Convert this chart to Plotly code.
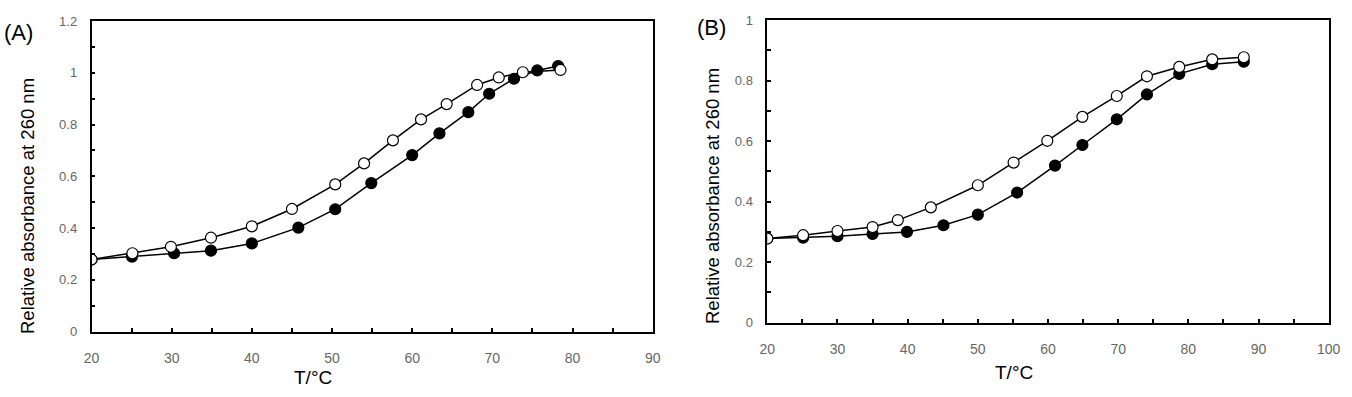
import plotly.graph_objects as go

W, H = 1352, 397
OFF_X, OFF_Y = 0, 0  # body margin is removed in the page below

# Panel A data
a_fill_T = [20, 25.05, 30.3, 34.9, 40.0, 45.8, 50.4, 54.9, 60.0, 63.4, 67.0, 69.6, 72.7, 75.6, 78.2]
a_fill_A = [0.279, 0.290, 0.303, 0.313, 0.341, 0.402, 0.473, 0.574, 0.682, 0.766, 0.848, 0.919, 0.977, 1.009, 1.026]
a_open_T = [20, 25.1, 29.9, 34.9, 40.0, 45.0, 50.4, 54.0, 57.6, 61.1, 64.3, 68.1, 70.8, 73.8, 78.5]
a_open_A = [0.279, 0.303, 0.328, 0.363, 0.407, 0.474, 0.569, 0.650, 0.739, 0.820, 0.879, 0.953, 0.982, 1.002, 1.011]

# Panel B data
b_fill_T = [20, 25.1, 30.0, 35.0, 39.9, 45.1, 50.0, 55.6, 61.0, 64.9, 69.8, 74.1, 78.7, 83.4, 87.9]
b_fill_A = [0.278, 0.281, 0.286, 0.293, 0.300, 0.322, 0.357, 0.430, 0.519, 0.587, 0.672, 0.754, 0.822, 0.854, 0.862]
b_open_T = [20, 25.1, 30.0, 35.0, 38.6, 43.3, 50.0, 55.1, 59.9, 64.9, 69.8, 74.1, 78.7, 83.4, 87.9]
b_open_A = [0.278, 0.289, 0.303, 0.316, 0.339, 0.381, 0.454, 0.529, 0.601, 0.680, 0.749, 0.814, 0.845, 0.870, 0.877]

panel_labels = ["(A)", "(B)"]
x_title = "T/°C"
y_title = "Relative absorbance at 260 nm"

FONT = "Liberation Sans, Arial, sans-serif"


def px(x):
    return (x - OFF_X) / W


def py(y):
    return 1 - (y - OFF_Y) / H


fig = go.Figure()


def add_series(T, A, xa, ya, filled):
    fig.add_trace(go.Scatter(
        x=T, y=A, mode="lines+markers", xaxis=xa, yaxis=ya,
        line=dict(color="black", width=1.5),
        marker=dict(size=11, color="black" if filled else "white",
                    line=dict(color="black", width=1.2)),
        showlegend=False, hoverinfo="x+y"))


add_series(a_fill_T, a_fill_A, "x", "y", True)
add_series(a_open_T, a_open_A, "x", "y", False)
add_series(b_fill_T, b_fill_A, "x2", "y2", True)
add_series(b_open_T, b_open_A, "x2", "y2", False)

minor_x = dict(dtick=5, ticks="inside", ticklen=4, tickwidth=1.5, tickcolor="black")
minor_y = dict(dtick=0.1, ticks="inside", ticklen=4, tickwidth=1.5, tickcolor="black")


def axis(**kw):
    base = dict(
        showgrid=False, zeroline=False, showline=True, linecolor="black", linewidth=1.5,
        mirror=True, ticks="inside", ticklen=4, tickwidth=1.5, tickcolor="black",
        automargin=False,
    )
    base.update(kw)
    return base


xfont = dict(family=FONT, size=14, color="#666666")
yfont = dict(family=FONT, size=13, color="#666666")

fig.update_layout(
    width=W, height=H, margin=dict(l=0, r=0, t=0, b=0, autoexpand=False),
    paper_bgcolor="white", plot_bgcolor="white",
    xaxis=axis(domain=[px(91.5), px(652.7)], range=[20, 90], dtick=10, tick0=20,
               minor=minor_x, anchor="y", ticklabelstandoff=13, tickfont=xfont),
    yaxis=axis(domain=[py(331.7), py(21)], range=[0, 1.2], dtick=0.2,
               minor=minor_y, anchor="x", ticklabelstandoff=10, tickfont=yfont),
    xaxis2=axis(domain=[px(767.3), px(1328.7)], range=[20, 100], dtick=10, tick0=20,
                minor=minor_x, anchor="y2", ticklabelstandoff=13, tickfont=xfont),
    yaxis2=axis(domain=[py(322.7), py(20)], range=[0, 1], dtick=0.2,
                minor=minor_y, anchor="x2", ticklabelstandoff=10, tickfont=yfont),
)


def label(text, x, y, size, angle=0):
    return dict(text=text, x=px(x), y=py(y), xref="paper", yref="paper",
                xanchor="center", yanchor="middle", textangle=angle,
                showarrow=False, font=dict(family=FONT, size=size, color="black"))


ann = [
    label(panel_labels[0], 18, 33, 22),
    label(panel_labels[1], 711, 27, 22),
    label(x_title, 313, 377, 19),
    label(x_title, 1014, 372, 19),
    label(y_title, 27, 206, 18.5, -90),
    label(y_title, 712, 196, 18.5, -90),
]
fig.update_layout(annotations=ann)

fig.write_html("out.html", config={"displayModeBar": False},
               post_script="document.body.style.margin='0px';")
